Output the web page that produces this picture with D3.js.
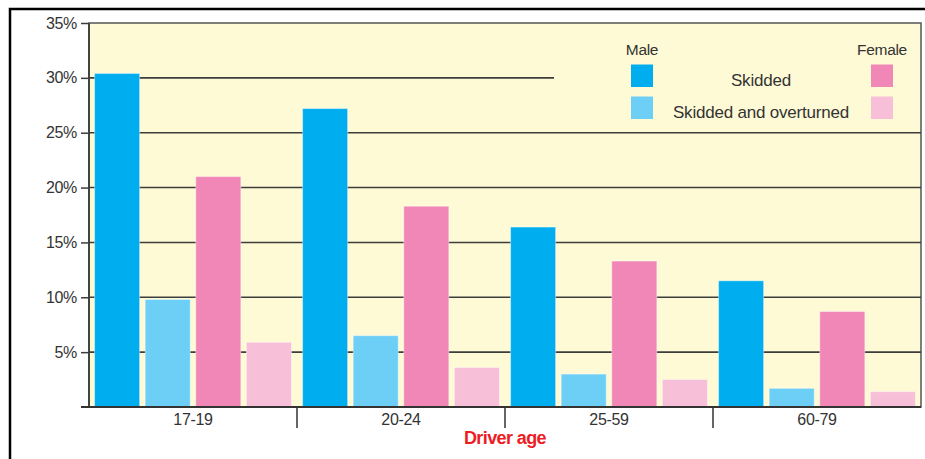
<!DOCTYPE html>
<html>
<head>
<meta charset="utf-8">
<script src="https://cdn.jsdelivr.net/npm/d3@7/dist/d3.min.js"></script>
<style>
  html, body { margin: 0; padding: 0; background: #ffffff; }
  svg { display: block; font-family: "Liberation Sans", Arial, Helvetica, sans-serif; }
</style>
</head>
<body>
<svg id="chart" width="925" height="459"></svg>
<script>
// ---- data ----
const categories = ["17-19", "20-24", "25-59", "60-79"];
const maleSkidded = [30.4, 27.2, 16.4, 11.5];
const maleOverturned = [9.8, 6.5, 3.0, 1.7];
const femaleSkidded = [21.0, 18.3, 13.3, 8.7];
const femaleOverturned = [5.9, 3.6, 2.5, 1.4];
const seriesKeys = ["maleSkidded", "maleOverturned", "femaleSkidded", "femaleOverturned"];
const seriesValues = [maleSkidded, maleOverturned, femaleSkidded, femaleOverturned];
const seriesColors = ["#00aeef", "#6dcff6", "#f087b6", "#f7bfd8"];
const yTicks = [5, 10, 15, 20, 25, 30, 35];
const xTitle = "Driver age";
const legendGroups = ["Male", "Female"];
const legendRows = ["Skidded", "Skidded and overturned"];

// ---- layout ----
const svg = d3.select("#chart");
const pLeft = 89, pRight = 921, pTop = 23, pBottom = 407;

const x0 = d3.scaleBand().domain(categories).range([pLeft, pRight]).padding(0);
const x1 = d3.scaleBand().domain(seriesKeys).range([0, x0.bandwidth()])
  .paddingInner(0.11).paddingOuter(0.11);
const y = d3.scaleLinear().domain([0, 35]).range([pBottom, pTop]);
const color = d3.scaleOrdinal().domain(seriesKeys).range(seriesColors);

// outer frame (left and top)
svg.append("path")
  .attr("d", `M10,459 L10,9 L925,9`)
  .attr("fill", "none").attr("stroke", "#000").attr("stroke-width", 2.5);

// plot background
svg.append("rect")
  .attr("x", pLeft).attr("y", pTop)
  .attr("width", pRight - pLeft).attr("height", pBottom - pTop)
  .attr("fill", "#fffad6").attr("stroke", "#555").attr("stroke-width", 1.5);

// gridlines
svg.append("g").selectAll("line")
  .data(yTicks.filter(d => d < 35))
  .join("line")
  .attr("x1", pLeft)
  .attr("x2", d => d === 30 ? 554 : pRight)
  .attr("y1", d => y(d)).attr("y2", d => y(d))
  .attr("stroke", "#3d3d3d").attr("stroke-width", 1.6);

// bars
const rows = categories.map((c, i) => ({ cat: c, vals: seriesKeys.map((k, j) => ({ key: k, value: seriesValues[j][i] })) }));
svg.append("g").selectAll("g")
  .data(rows)
  .join("g")
  .attr("transform", d => `translate(${x0(d.cat)},0)`)
  .selectAll("rect")
  .data(d => d.vals)
  .join("rect")
  .attr("x", d => x1(d.key))
  .attr("width", x1.bandwidth())
  .attr("y", d => y(d.value))
  .attr("height", d => y(0) - y(d.value))
  .attr("fill", d => color(d.key))
  .attr("stroke", "rgba(255,255,255,0.4)")
  .attr("stroke-width", 1);

// y axis
const yAxis = svg.append("g")
  .attr("transform", `translate(${pLeft},0)`)
  .call(d3.axisLeft(y).tickValues(yTicks).tickSize(8).tickPadding(4).tickFormat(d => d + "%"));
yAxis.select(".domain").remove();
yAxis.selectAll(".tick line").attr("stroke", "#3d3d3d").attr("stroke-width", 1.5);
yAxis.selectAll(".tick text").attr("font-size", 16).attr("fill", "#333")
  .attr("font-family", "'Liberation Sans', Arial, sans-serif").attr("letter-spacing", -0.3);

// left axis line
svg.append("line")
  .attr("x1", pLeft).attr("x2", pLeft).attr("y1", pTop).attr("y2", pBottom)
  .attr("stroke", "#3d3d3d").attr("stroke-width", 1.8);

// x axis
const xAxis = svg.append("g")
  .attr("transform", `translate(0,${pBottom})`)
  .call(d3.axisBottom(x0).tickSize(0).tickPadding(7));
xAxis.select(".domain").remove();
xAxis.selectAll(".tick text").attr("font-size", 16).attr("fill", "#333")
  .attr("font-family", "'Liberation Sans', Arial, sans-serif").attr("letter-spacing", -0.3);

svg.append("line")
  .attr("x1", 81).attr("x2", pRight).attr("y1", pBottom).attr("y2", pBottom)
  .attr("stroke", "#333").attr("stroke-width", 1.8);

// category separators
svg.append("g").selectAll("line")
  .data(categories.slice(1))
  .join("line")
  .attr("x1", d => x0(d)).attr("x2", d => x0(d))
  .attr("y1", pBottom).attr("y2", 428)
  .attr("stroke", "#333").attr("stroke-width", 1.5);

// x title
svg.append("text")
  .attr("x", (pLeft + pRight) / 2).attr("y", 444)
  .attr("text-anchor", "middle")
  .attr("font-size", 18).attr("font-weight", "bold")
  .attr("fill", "#ed1c24")
  .attr("letter-spacing", -0.6)
  .text(xTitle);

// legend
const lg = svg.append("g");
const groupX = [642, 882];
const rowY = [64.5, 96.5];
legendGroups.forEach((g, gi) => {
  lg.append("text").attr("x", groupX[gi]).attr("y", 55)
    .attr("text-anchor", "middle").attr("font-size", 15.5).attr("fill", "#333")
    .attr("letter-spacing", -0.3).text(g);
  legendRows.forEach((r, ri) => {
    const key = seriesKeys[gi * 2 + ri];
    lg.append("rect")
      .attr("x", groupX[gi] - 11).attr("y", rowY[ri])
      .attr("width", 22).attr("height", 22.5)
      .attr("fill", color(key));
  });
});
legendRows.forEach((r, ri) => {
  lg.append("text").attr("x", 761).attr("y", rowY[ri] + 21)
    .attr("text-anchor", "middle").attr("font-size", 17).attr("fill", "#333")
    .attr("letter-spacing", -0.2).text(r);
});
</script>
</body>
</html>
